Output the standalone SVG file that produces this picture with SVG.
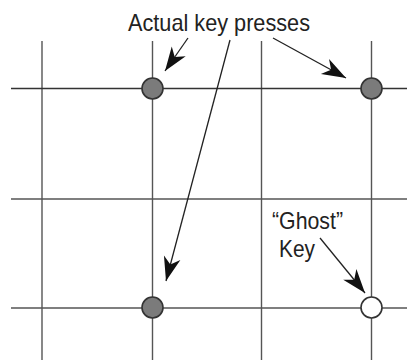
<svg xmlns="http://www.w3.org/2000/svg" width="407" height="360" viewBox="0 0 407 360">
<style>
.grid{stroke:#555;stroke-width:1.4;fill:none}
.conn{stroke:#222;stroke-width:1.3;fill:none;marker-end:url(#ah)}
.key{fill:#7b7b7b;stroke:#333;stroke-width:1.6}
.ghost{fill:#fff;stroke:#333;stroke-width:1.6}
.lbl{font-family:"Liberation Sans",Arial,sans-serif;font-size:24px;fill:#222}
</style>
<defs>
<marker id="ah" markerUnits="userSpaceOnUse" markerWidth="28" markerHeight="20" viewBox="-26 -10 28 20" refX="0" refY="0" orient="auto">
<path d="M0,0 L-24,-8.5 L-17,0 L-24,8.5 Z" fill="#111"/>
</marker>
</defs>
<rect width="407" height="360" fill="#fff"/>
<g id="grid">
<line class="grid" x1="42" y1="41" x2="42" y2="360"/>
<line class="grid" x1="152.5" y1="41" x2="152.5" y2="360"/>
<line class="grid" x1="261.5" y1="41" x2="261.5" y2="360"/>
<line class="grid" x1="371.5" y1="41" x2="371.5" y2="360"/>
<line class="grid" x1="11" y1="88.5" x2="407" y2="88.5" style="stroke:#333"/>
<line class="grid" x1="11" y1="199" x2="407" y2="199"/>
<line class="grid" x1="11" y1="308" x2="407" y2="308"/>
</g>
<g id="connectors">
<line class="conn" x1="188" y1="38" x2="165" y2="71"/>
<line class="conn" x1="230" y1="40" x2="166" y2="281"/>
<line class="conn" x1="273" y1="38" x2="346" y2="78"/>
<line class="conn" x1="320" y1="238" x2="365" y2="293"/>
</g>
<g id="key-top-left"><circle class="key" cx="152.5" cy="88.5" r="10.5"/></g>
<g id="key-top-right"><circle class="key" cx="371.5" cy="88.5" r="10.5"/></g>
<g id="key-bottom-left"><circle class="key" cx="152.5" cy="307.5" r="10.5"/></g>
<g id="ghost-key"><circle class="ghost" cx="371.5" cy="307.5" r="10.5"/></g>
<g id="label-actual"><text class="lbl" x="128" y="31" textLength="182" lengthAdjust="spacingAndGlyphs">Actual key presses</text></g>
<g id="label-ghost">
<text class="lbl" x="272" y="229" textLength="71" lengthAdjust="spacingAndGlyphs">“Ghost”</text>
<text class="lbl" x="279" y="257" textLength="36" lengthAdjust="spacingAndGlyphs">Key</text>
</g>
</svg>
